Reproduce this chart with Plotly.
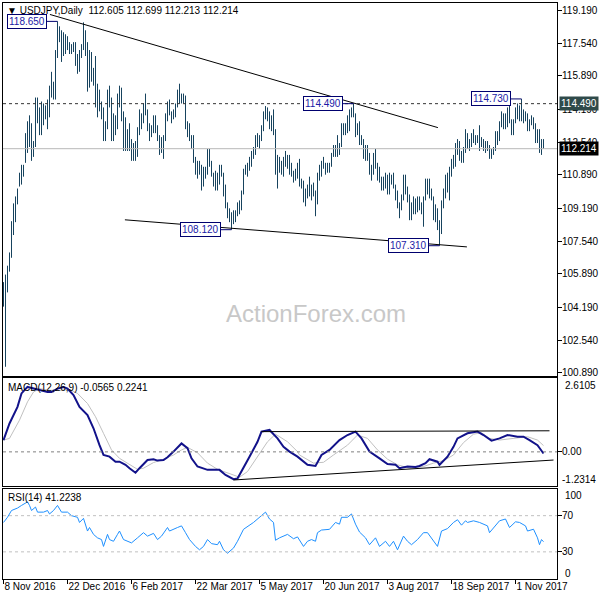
import plotly.graph_objects as go
import pandas as pd

# ---------------- data ----------------
dates = pd.bdate_range("2016-11-08", "2017-11-21")  # daily bars (weekdays)

opens = [104.45,105.12,105.65,106.10,106.60,108.40,109.10,109.05,110.20,110.90,
 110.80,111.05,112.50,113.30,113.20,111.90,112.40,114.50,114.00,113.50,
 114.10,113.90,114.00,114.00,115.30,115.10,115.30,117.10,118.10,117.90,
 117.00,117.90,117.60,117.60,117.30,117.40,117.40,116.90,116.50,117.00,
 117.40,117.70,117.30,115.40,117.00,115.90,115.80,115.40,114.50,114.50,
 114.20,112.70,113.30,115.10,114.60,112.80,113.80,113.30,114.50,115.10,
 113.80,112.80,113.20,112.80,112.60,111.70,112.30,111.90,113.20,113.20,
 113.70,114.30,114.20,113.20,112.90,113.10,113.70,113.30,112.60,112.10,
 112.70,112.80,113.70,114.40,114.00,113.90,113.90,114.40,115.00,114.80,
 114.80,114.80,113.30,113.30,112.70,112.50,111.70,111.20,111.00,111.30,
 110.60,111.10,111.00,111.90,111.40,110.90,110.70,110.70,110.80,111.10,
 110.90,110.30,109.40,109.10,108.60,108.90,108.90,108.90,109.30,109.10,
 110.00,111.10,111.10,111.30,111.50,111.90,112.20,112.80,112.50,112.70,
 113.20,114.00,114.20,113.90,113.30,113.80,113.10,110.90,111.50,111.30,
 111.10,111.80,111.60,111.80,111.30,110.90,110.80,110.80,111.40,110.40,
 110.50,109.60,109.80,110.00,110.30,110.00,110.00,109.60,111.00,110.90,
 111.50,111.40,111.40,111.30,111.30,111.90,112.30,112.30,112.40,112.40,
 113.30,113.20,113.20,113.30,113.90,114.00,113.90,113.20,113.30,112.50,
 112.60,111.90,112.00,111.90,111.10,111.10,111.90,111.40,111.20,110.70,
 110.30,110.30,110.70,110.00,110.70,110.70,110.30,110.00,109.20,109.20,
 109.60,110.70,110.10,109.60,109.20,109.00,109.60,109.00,109.60,109.30,
 109.20,109.70,110.30,110.20,110.20,109.70,108.70,109.20,108.40,107.80,
 109.40,110.10,110.50,110.20,110.80,111.50,111.60,112.30,112.40,112.00,
 111.70,112.20,112.80,112.30,112.50,112.70,112.80,112.60,112.80,112.60,
 112.70,112.40,112.50,112.30,111.80,112.20,112.20,112.90,112.60,113.50,
 113.40,113.90,113.70,114.10,113.70,113.10,113.60,114.10,114.00,114.00,
 113.70,114.00,113.90,113.50,113.50,113.60,113.40,113.00,113.10,112.10,
 112.605]
highs = [105.47,105.85,106.30,106.97,108.55,109.45,109.80,110.20,111.00,111.40,
 111.40,113.00,113.60,113.90,113.50,112.60,114.80,114.80,114.30,114.60,
 114.50,114.40,114.70,115.40,116.10,115.60,117.20,118.65,118.40,118.20,
 118.10,118.00,117.90,117.60,117.50,117.60,117.60,117.00,117.20,117.50,
 118.60,118.20,117.60,117.20,117.10,116.30,116.90,115.50,115.20,114.60,
 114.30,113.60,115.20,115.40,114.80,114.00,113.90,115.00,115.40,115.30,
 114.10,113.80,113.20,113.50,112.70,112.50,112.60,113.30,114.20,114.00,
 114.50,115.00,114.20,113.50,113.40,113.90,113.90,113.40,112.90,112.80,
 112.90,114.00,114.60,114.70,114.10,114.20,114.50,115.20,115.50,115.00,
 115.00,114.90,113.60,113.50,112.90,112.90,111.80,111.60,111.60,111.40,
 111.30,111.30,112.20,112.20,111.60,111.00,111.10,111.00,111.40,111.40,
 111.00,110.40,109.50,109.20,109.00,109.10,109.10,109.50,109.60,110.10,
 111.20,111.40,111.50,111.80,112.10,112.30,112.90,113.00,112.90,113.40,
 114.10,114.37,114.30,114.10,113.90,114.20,113.20,111.90,111.80,111.60,
 111.80,112.10,111.90,111.90,111.50,111.10,111.20,111.50,111.70,110.70,
 110.60,110.20,110.40,110.80,110.40,110.50,110.10,111.00,111.40,111.60,
 111.80,111.50,111.50,111.50,112.00,112.40,112.40,112.90,112.50,113.50,
 113.50,113.50,113.90,114.20,114.30,114.49,114.00,113.50,113.60,112.90,
 112.70,112.40,112.40,112.00,111.40,112.00,112.20,111.50,111.30,110.80,
 110.80,111.00,110.90,111.00,110.90,111.00,110.40,110.10,109.50,109.90,
 110.90,110.90,110.30,109.90,109.50,109.80,109.70,109.80,109.80,109.50,
 109.80,110.70,110.70,110.70,110.20,109.80,109.40,109.20,108.60,109.60,
 110.20,110.90,111.00,111.30,111.70,111.90,112.50,112.70,112.60,112.10,
 112.30,113.20,113.00,112.70,113.00,113.20,112.90,112.90,113.40,112.80,
 112.70,112.60,112.60,112.40,112.20,112.30,113.10,113.10,113.60,114.10,
 114.00,114.00,114.30,114.40,113.70,113.70,114.30,114.50,114.40,114.73,
 114.20,114.10,114.00,113.70,113.90,113.80,113.50,113.20,113.20,112.70,
 112.699]
lows = [104.23,101.19,104.95,106.00,106.70,107.85,108.50,109.40,110.30,110.40,
 110.80,111.50,112.00,112.30,111.60,111.80,112.30,113.50,112.90,112.90,
 113.40,113.70,113.20,113.80,114.80,114.70,114.70,116.80,117.60,116.60,
 116.90,117.00,117.20,117.00,117.00,117.10,116.40,116.00,116.10,116.80,
 117.20,116.90,115.10,115.30,115.60,115.40,114.30,113.80,114.10,113.70,
 112.60,112.60,113.20,114.30,112.60,112.60,112.90,113.20,114.30,113.60,
 112.10,112.10,112.10,112.10,111.60,111.60,111.60,111.80,112.90,113.20,
 113.50,113.90,113.10,112.60,112.80,113.00,113.00,112.60,111.90,112.00,
 111.70,112.60,113.60,113.90,113.50,113.70,113.80,114.30,114.50,114.50,
 114.50,113.20,112.80,112.60,112.20,111.50,110.90,110.70,110.90,110.10,
 110.30,110.70,110.90,111.30,110.80,110.30,110.10,110.10,110.40,110.80,
 109.80,109.20,108.70,108.50,108.12,108.40,108.50,108.80,108.90,109.10,
 109.90,110.90,110.80,111.10,111.30,111.70,111.90,112.30,112.20,112.60,
 113.10,113.70,113.60,113.20,113.10,112.90,110.90,110.20,111.00,110.90,
 110.80,111.30,111.20,110.90,110.80,110.50,110.60,110.70,110.30,110.20,
 109.50,109.30,109.70,109.80,109.60,109.80,108.80,109.40,110.60,110.80,
 111.20,110.90,111.00,111.00,111.30,111.80,111.80,111.80,111.90,112.30,
 112.90,112.90,113.00,113.10,113.80,113.80,112.80,112.90,112.40,112.40,
 111.70,111.60,111.60,110.90,110.60,110.90,111.20,110.60,110.50,110.10,
 110.10,110.20,109.90,109.90,110.40,110.20,109.60,109.20,108.70,109.10,
 109.60,109.90,109.50,108.60,108.60,108.90,108.90,109.00,109.10,108.90,
 108.27,109.60,109.90,109.70,109.60,108.60,108.50,108.10,107.31,107.90,
 109.20,109.70,110.00,109.60,110.80,111.20,111.30,111.90,111.60,111.50,
 111.50,112.00,112.20,112.10,112.30,112.50,112.40,112.50,112.10,112.30,
 112.10,112.00,112.10,111.70,111.70,111.90,112.10,112.40,112.60,113.30,
 113.20,113.20,113.30,113.50,112.90,112.90,113.50,113.70,113.60,113.60,
 113.50,113.60,113.10,113.10,113.40,113.20,112.50,112.50,112.00,111.90,
 112.213]
closes = [105.12,105.65,106.10,106.60,108.40,109.10,109.05,110.20,110.90,110.80,
 111.05,112.50,113.30,113.20,111.90,112.40,114.50,114.00,113.50,114.10,
 113.90,114.00,114.00,115.30,115.10,115.30,117.10,118.10,117.90,117.00,
 117.90,117.60,117.60,117.30,117.40,117.40,116.90,116.50,117.00,117.40,
 117.70,117.30,115.40,117.00,115.90,115.80,115.40,114.50,114.50,114.20,
 112.70,113.30,115.10,114.60,112.80,113.80,113.30,114.50,115.10,113.80,
 112.80,113.20,112.80,112.60,111.70,112.30,111.90,113.20,113.20,113.70,
 114.30,114.20,113.20,112.90,113.10,113.70,113.30,112.60,112.10,112.70,
 112.80,113.70,114.40,114.00,113.90,113.90,114.40,115.00,114.80,114.80,
 114.80,113.30,113.30,112.70,112.50,111.70,111.20,111.00,111.30,110.60,
 111.10,111.00,111.90,111.40,110.90,110.70,110.70,110.80,111.10,110.90,
 110.30,109.40,109.10,108.60,108.90,108.90,108.90,109.30,109.10,110.00,
 111.10,111.10,111.30,111.50,111.90,112.20,112.80,112.50,112.70,113.20,
 114.00,114.20,113.90,113.30,113.80,113.10,110.90,111.50,111.30,111.10,
 111.80,111.60,111.80,111.30,110.90,110.80,110.80,111.40,110.40,110.50,
 109.60,109.80,110.00,110.30,110.00,110.00,109.60,111.00,110.90,111.50,
 111.40,111.40,111.30,111.30,111.90,112.30,112.30,112.40,112.40,113.30,
 113.20,113.20,113.30,113.90,114.00,113.90,113.20,113.30,112.50,112.60,
 111.90,112.00,111.90,111.10,111.10,111.90,111.40,111.20,110.70,110.30,
 110.30,110.70,110.00,110.70,110.70,110.30,110.00,109.20,109.20,109.60,
 110.70,110.10,109.60,109.20,109.00,109.60,109.00,109.60,109.30,109.20,
 109.70,110.30,110.20,110.20,109.70,108.70,109.20,108.40,107.80,109.40,
 110.10,110.50,110.20,110.80,111.50,111.60,112.30,112.40,112.00,111.70,
 112.20,112.80,112.30,112.50,112.70,112.80,112.60,112.80,112.60,112.70,
 112.40,112.50,112.30,111.80,112.20,112.20,112.90,112.60,113.50,113.40,
 113.90,113.70,114.10,113.70,113.10,113.60,114.10,114.00,114.00,113.70,
 114.00,113.90,113.50,113.50,113.60,113.40,113.00,113.10,112.10,112.60,
 112.214]

# MACD(12,26,9) main line and signal line, read at bar indices
macd_idx = [0,3,7,9,12,15,18,22,24,27,30,32,35,38,42,45,48,50,53,56,58,61,63,66,68,72,75,77,80,82,
 85,89,92,94,97,102,105,108,111,115,117,120,123,127,129,133,137,140,143,147,148,152,156,159,163,
 168,172,176,179,183,188,192,196,198,202,206,208,211,213,217,218,222,225,227,232,237,240,244,248,
 252,257,260,263,267,270]
macd_val = [0.42,1.01,1.60,2.08,2.31,2.25,2.19,2.13,2.13,2.25,2.31,2.25,2.02,1.60,1.31,0.84,0.24,-0.11,
 -0.17,-0.35,-0.35,-0.46,-0.58,-0.74,-0.58,-0.29,-0.26,-0.31,-0.29,-0.19,0.01,0.30,0.13,-0.23,-0.52,
 -0.64,-0.64,-0.64,-0.82,-0.97,-0.95,-0.58,-0.17,0.36,0.72,0.78,0.48,0.18,0.01,-0.17,-0.23,-0.46,
 -0.50,-0.11,0.07,0.42,0.60,0.72,0.48,0.01,-0.23,-0.43,-0.46,-0.58,-0.52,-0.54,-0.50,-0.40,-0.26,
 -0.35,-0.46,-0.17,0.18,0.48,0.66,0.72,0.60,0.40,0.48,0.60,0.54,0.54,0.42,0.24,-0.0565]
signal_idx = [0,3,8,12,15,18,23,28,33,37,42,46,50,54,58,63,67,70,75,80,85,89,92,97,102,107,113,118,
 122,127,132,136,142,147,148,155,160,165,172,177,182,187,192,197,203,210,215,220,225,230,235,239,
 243,248,255,262,267,270]
signal_val = [0.42,0.48,1.13,1.78,2.13,2.25,2.19,2.19,2.22,2.08,1.72,1.25,0.66,0.07,-0.23,-0.46,-0.62,
 -0.58,-0.38,-0.26,-0.11,0.07,0.16,-0.03,-0.40,-0.62,-0.76,-0.90,-0.70,-0.19,0.36,0.63,0.36,0.01,
 -0.11,-0.40,-0.37,-0.11,0.24,0.60,0.48,0.07,-0.26,-0.46,-0.58,-0.52,-0.40,-0.31,-0.11,0.33,0.63,
 0.68,0.48,0.42,0.48,0.54,0.42,0.2241]

# RSI(14), read at bar indices
rsi_idx = [0,2,4,7,9,12,13,14,16,17,20,22,23,25,27,29,32,34,37,38,40,42,43,45,47,49,50,52,53,55,57,58,
 60,62,64,67,70,72,75,77,79,82,83,87,89,91,93,96,98,100,102,104,107,108,110,112,115,117,120,125,
 128,131,133,135,136,138,142,145,147,150,152,154,156,157,159,163,166,168,169,172,174,176,178,181,
 183,186,188,191,193,195,197,200,202,204,207,210,212,215,217,219,222,225,227,229,231,232,235,238,
 242,243,246,248,251,253,256,258,261,262,265,267,268,269,270]
rsi_val = [62.5,68.2,75.7,78.4,81.3,85.2,81.3,75.7,79.5,73.9,73.9,75.7,71.9,75.7,81.3,73.9,73.9,70.0,
 68.2,62.5,67.0,53.0,56.9,49.3,45.5,43.6,36.0,49.3,43.6,41.7,49.3,53.0,43.6,41.7,39.9,45.5,51.2,47.4,
 50.4,43.6,47.4,56.9,53.0,56.9,58.7,51.2,43.6,36.0,32.3,36.0,43.6,39.1,37.9,41.7,32.3,28.5,34.2,41.7,
 54.9,62.5,68.2,73.9,66.3,62.5,42.8,45.5,49.3,44.5,46.5,36.0,41.7,43.6,41.7,51.2,54.1,54.9,62.5,60.6,
 68.2,68.2,71.9,60.6,51.9,45.5,37.9,45.5,36.0,41.7,36.0,41.7,32.3,47.4,41.7,37.9,43.6,51.2,51.2,41.7,
 36.0,53.0,55.7,62.5,65.5,59.5,64.3,62.5,64.3,62.5,58.7,51.2,58.7,64.3,66.3,56.9,63.2,62.5,58.7,53.0,
 55.0,45.5,37.9,43.6,41.2238]

# drawn objects (bar index, value)
trend_upper_x, trend_upper_y = [23.2, 217.2], [119.00, 113.28]
trend_lower_x, trend_lower_y = [60.7, 231.7], [108.62, 107.25]
macd_upper_x, macd_upper_y = [129, 273], [0.72, 0.75]
macd_lower_x, macd_lower_y = [115, 275], [-1.00, -0.29]
swing_idx = [27, 114, 175, 218, 259]
swing_val = [118.650, 108.120, 114.490, 107.310, 114.730]
resist_level = 114.490
price_ticks = [119.19, 117.54, 115.89, 114.19, 112.54, 110.89, 109.19, 107.54, 105.89, 104.19, 102.54, 100.89]
date_tick_idx = [0, 32, 64, 96, 128, 160, 192, 224, 256]

# ---------------- figure ----------------
n = len(closes)
xs = list(range(n))
FONT = "Liberation Sans, Arial, sans-serif"
BAR = "#17435e"

fig = go.Figure()
fig.add_trace(go.Ohlc(x=xs, open=opens, high=highs, low=lows, close=closes,
                      increasing_line_color=BAR, decreasing_line_color=BAR,
                      line_width=1, tickwidth=0, hoverinfo="skip",
                      xaxis="x", yaxis="y", showlegend=False))
fig.add_trace(go.Scatter(x=trend_upper_x, y=trend_upper_y, mode="lines",
                         line=dict(color="black", width=1), xaxis="x", yaxis="y",
                         showlegend=False, hoverinfo="skip"))
fig.add_trace(go.Scatter(x=trend_lower_x, y=trend_lower_y, mode="lines",
                         line=dict(color="black", width=1), xaxis="x", yaxis="y",
                         showlegend=False, hoverinfo="skip"))
# MACD
fig.add_trace(go.Scatter(x=signal_idx, y=signal_val, mode="lines",
                         line=dict(color="#c0c0c0", width=1), xaxis="x2", yaxis="y2",
                         showlegend=False, hoverinfo="skip"))
fig.add_trace(go.Scatter(x=macd_idx, y=macd_val, mode="lines",
                         line=dict(color="#12128a", width=2), xaxis="x2", yaxis="y2",
                         showlegend=False, hoverinfo="skip"))
fig.add_trace(go.Scatter(x=macd_upper_x, y=macd_upper_y, mode="lines",
                         line=dict(color="black", width=1), xaxis="x2", yaxis="y2",
                         showlegend=False, hoverinfo="skip"))
fig.add_trace(go.Scatter(x=macd_lower_x, y=macd_lower_y, mode="lines",
                         line=dict(color="black", width=1), xaxis="x2", yaxis="y2",
                         showlegend=False, hoverinfo="skip"))
# RSI
fig.add_trace(go.Scatter(x=rsi_idx, y=rsi_val, mode="lines",
                         line=dict(color="#1e90ff", width=1), xaxis="x3", yaxis="y3",
                         showlegend=False, hoverinfo="skip"))

# pixel helpers (plot area: x 3..557, y 3..579)
def px(xp):
    return (xp - 3) / 554.0

def py(yp):
    return (579 - yp) / 576.0

XR = [-0.25, 276.75]
axis_common = dict(showline=True, mirror=True, linecolor="black", linewidth=1,
                   showgrid=False, zeroline=False, automargin=False)
yticks = dict(ticks="outside", ticklen=4, tickcolor="black", ticklabelstandoff=-2)
fig.update_layout(
    width=600, height=600, margin=dict(l=3, r=43, t=3, b=21, autoexpand=False),
    paper_bgcolor="white", plot_bgcolor="white",
    font=dict(family=FONT, size=10, color="black"),
    showlegend=False,
    xaxis=dict(domain=[0, 1], range=XR, anchor="y", showticklabels=False, ticks="",
               rangeslider=dict(visible=False), **axis_common),
    xaxis2=dict(domain=[0, 1], range=XR, anchor="y2", matches="x", showticklabels=False,
                ticks="", **axis_common),
    xaxis3=dict(domain=[0, 1], range=XR, anchor="y3", matches="x", ticks="outside",
                ticklen=4, tickcolor="black", ticklabelstandoff=-2,
                tickvals=date_tick_idx,
                ticktext=[dates[i].strftime("%-d %b %Y") for i in date_tick_idx],
                ticklabelposition="outside right", **axis_common),
    yaxis=dict(domain=[0.3524, 1.0], range=[100.723, 119.579], side="right", anchor="x",
               tickvals=price_ticks, ticktext=[f"{v:.3f}" for v in price_ticks],
               **yticks, **axis_common),
    yaxis2=dict(domain=[0.1606, 0.3481], range=[-1.2314, 2.6105], side="right", anchor="x2",
                tickvals=[0], ticktext=["0.00"], **yticks, **axis_common),
    yaxis3=dict(domain=[0.0, 0.1571], range=[0, 100], side="right", anchor="x3",
                tickvals=[30, 70], ticktext=["30", "70"], **yticks, **axis_common),
)

# level lines
fig.add_shape(type="line", xref="paper", yref="y", x0=0, x1=1, y0=resist_level, y1=resist_level,
              line=dict(color="#333333", width=1, dash="3px,3px"))
fig.add_shape(type="line", xref="paper", yref="y", x0=0, x1=1, y0=closes[-1], y1=closes[-1],
              line=dict(color="#b8b8b8", width=1))
fig.add_shape(type="line", xref="paper", yref="y2", x0=0, x1=1, y0=0, y1=0,
              line=dict(color="#808080", width=1, dash="3px,3px"))
for lvl in (70, 30):
    fig.add_shape(type="line", xref="paper", yref="y3", x0=0, x1=1, y0=lvl, y1=lvl,
                  line=dict(color="#c0c0c0", width=1, dash="3px,3px"))

ann = []
# header
ann.append(dict(xref="paper", yref="paper", x=px(5), y=py(10), xanchor="left", yanchor="middle",
                text=f"\u25bc USDJPY,Daily  {opens[-1]:.3f} {highs[-1]:.3f} {lows[-1]:.3f} {closes[-1]:.3f}",
                showarrow=False, font=dict(size=10, color="black")))
ann.append(dict(xref="paper", yref="paper", x=px(6), y=py(387), xanchor="left", yanchor="middle",
                text=f"MACD(12,26,9) {macd_val[-1]:.4f} {signal_val[-1]:.4f}",
                showarrow=False, font=dict(size=10, color="black")))
ann.append(dict(xref="paper", yref="paper", x=px(6), y=py(497), xanchor="left", yanchor="middle",
                text=f"RSI(14) {rsi_val[-1]:.4f}",
                showarrow=False, font=dict(size=10, color="black")))
# watermark
ann.append(dict(xref="paper", yref="paper", x=px(316), y=py(313), xanchor="center", yanchor="middle",
                text="ActionForex.com", showarrow=False, font=dict(size=24, color="#c8c8c8")))
# swing labels
for i, v in zip(swing_idx, swing_val):
    ann.append(dict(xref="x", yref="y", x=i, y=v, text=f"{v:.3f}", showarrow=True,
                    arrowhead=0, arrowwidth=1, arrowcolor="#00006e", ax=-31, ay=0,
                    bordercolor="#00006e", borderwidth=1, borderpad=1, bgcolor="white",
                    font=dict(size=10, color="#1a1aa6")))
# right price boxes
ann.append(dict(xref="paper", yref="y", x=px(559), y=resist_level, xanchor="left", yanchor="middle",
                text=f"{resist_level:.3f}", showarrow=False, bgcolor="#2f4a4a", borderpad=1,
                font=dict(size=10, color="white")))
ann.append(dict(xref="paper", yref="y", x=px(559), y=closes[-1], xanchor="left", yanchor="middle",
                text=f"{closes[-1]:.3f}", showarrow=False, bgcolor="black", borderpad=1,
                font=dict(size=10, color="white")))
# indicator window bounds labels
ann.append(dict(xref="paper", yref="paper", x=px(563), y=py(385), xanchor="left", yanchor="middle",
                text="2.6105", showarrow=False))
ann.append(dict(xref="paper", yref="paper", x=px(560), y=py(479), xanchor="left", yanchor="middle",
                text="-1.2314", showarrow=False))
ann.append(dict(xref="paper", yref="paper", x=px(563), y=py(495), xanchor="left", yanchor="middle",
                text="100", showarrow=False))
ann.append(dict(xref="paper", yref="paper", x=px(563), y=py(573), xanchor="left", yanchor="middle",
                text="0", showarrow=False))
fig.update_layout(annotations=ann)

fig.write_html("out.html", config={"displayModeBar": False},
               post_script="document.body.style.margin='0';document.body.style.overflow='hidden';")
